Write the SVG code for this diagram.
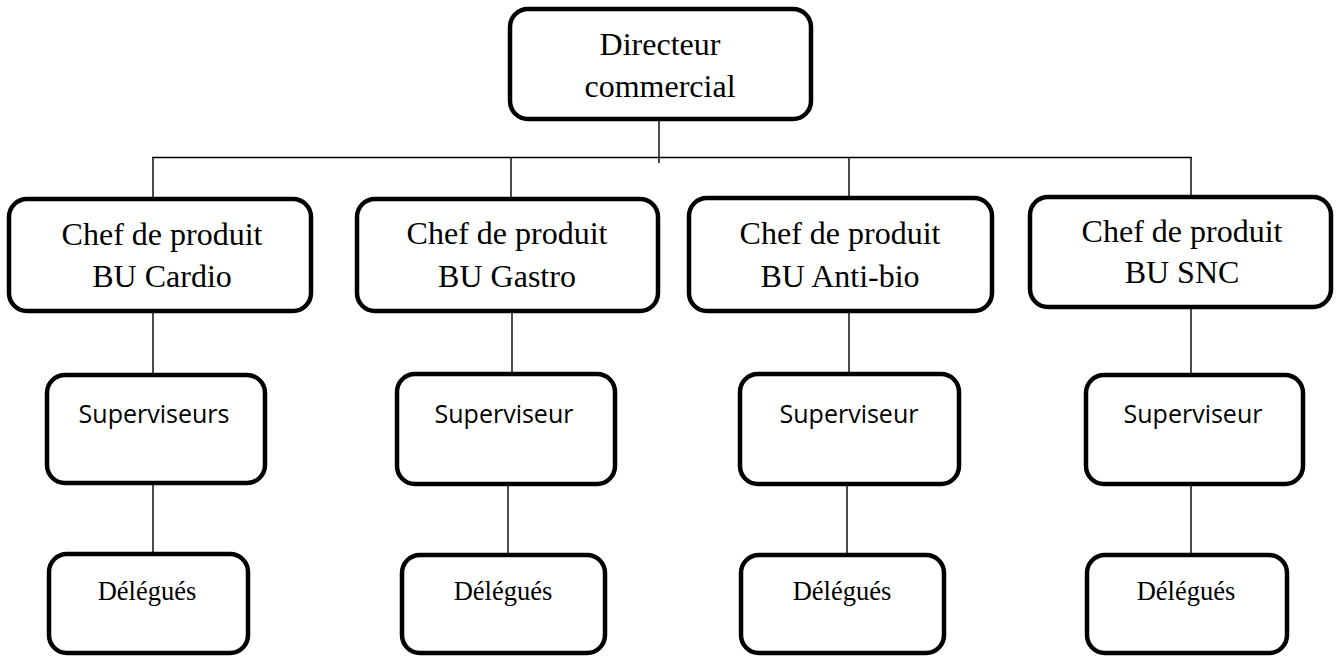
<svg xmlns="http://www.w3.org/2000/svg" width="1337" height="658" viewBox="0 0 1337 658">
  <style>
    .box { fill: #ffffff; stroke: #000000; stroke-width: 4.5; }
    .link { stroke: #000000; stroke-width: 1.4; fill: none; }
    .serif { font-family: "Liberation Serif", "Times New Roman", serif; fill: #000000; text-anchor: middle; }
    .big { font-size: 32px; }
    .small { font-size: 26.5px; }
    .sans { font-family: "Open Sans", "Liberation Sans", sans-serif; font-size: 25px; fill: #000000; text-anchor: middle; }
  </style>
  <rect width="1337" height="658" fill="#ffffff"/>

  <!-- connectors -->
  <g id="connectors">
    <line class="link" x1="659" y1="121" x2="659" y2="163"/>
    <line class="link" x1="152" y1="157.5" x2="1192" y2="157.5"/>
    <line class="link" x1="153" y1="157.5" x2="153" y2="197"/>
    <line class="link" x1="511" y1="157.5" x2="511" y2="197"/>
    <line class="link" x1="849" y1="157.5" x2="849" y2="196"/>
    <line class="link" x1="1191" y1="157.5" x2="1191" y2="195"/>
    <line class="link" x1="153" y1="313" x2="153" y2="373"/>
    <line class="link" x1="512" y1="313" x2="512" y2="372"/>
    <line class="link" x1="849" y1="313" x2="849" y2="372"/>
    <line class="link" x1="1191" y1="309" x2="1191" y2="373"/>
    <line class="link" x1="153" y1="485" x2="153" y2="552"/>
    <line class="link" x1="508" y1="486" x2="508" y2="553"/>
    <line class="link" x1="847" y1="486" x2="847" y2="553"/>
    <line class="link" x1="1191" y1="486" x2="1191" y2="553"/>
  </g>

  <!-- top level -->
  <g id="directeur">
    <rect class="box" x="510" y="9" width="301" height="110" rx="18"/>
    <text class="serif big" x="660" y="55">Directeur</text>
    <text class="serif big" x="660" y="97">commercial</text>
  </g>

  <!-- product managers -->
  <g id="chef-cardio">
    <rect class="box" x="9" y="199" width="302" height="112" rx="18"/>
    <text class="serif big" x="162" y="245">Chef de produit</text>
    <text class="serif big" x="162" y="287">BU Cardio</text>
  </g>
  <g id="chef-gastro">
    <rect class="box" x="357" y="199" width="301" height="112" rx="18"/>
    <text class="serif big" x="507" y="244">Chef de produit</text>
    <text class="serif big" x="507" y="287">BU Gastro</text>
  </g>
  <g id="chef-antibio">
    <rect class="box" x="689" y="198" width="303" height="113" rx="18"/>
    <text class="serif big" x="840" y="244">Chef de produit</text>
    <text class="serif big" x="840" y="287">BU Anti-bio</text>
  </g>
  <g id="chef-snc">
    <rect class="box" x="1030" y="197" width="301" height="110" rx="18"/>
    <text class="serif big" x="1182" y="242">Chef de produit</text>
    <text class="serif big" x="1182" y="283">BU SNC</text>
  </g>

  <!-- supervisors -->
  <g id="sup-cardio">
    <rect class="box" x="47" y="375" width="218" height="108" rx="18"/>
    <text class="sans" x="154" y="423">Superviseurs</text>
  </g>
  <g id="sup-gastro">
    <rect class="box" x="397" y="374" width="218" height="110" rx="18"/>
    <text class="sans" x="504" y="423">Superviseur</text>
  </g>
  <g id="sup-antibio">
    <rect class="box" x="740" y="374" width="219" height="110" rx="18"/>
    <text class="sans" x="849" y="423">Superviseur</text>
  </g>
  <g id="sup-snc">
    <rect class="box" x="1086" y="375" width="217" height="109" rx="18"/>
    <text class="sans" x="1193" y="423">Superviseur</text>
  </g>

  <!-- delegates -->
  <g id="del-cardio">
    <rect class="box" x="49" y="554" width="199" height="99" rx="18"/>
    <text class="serif small" x="147" y="600">Délégués</text>
  </g>
  <g id="del-gastro">
    <rect class="box" x="402" y="555" width="203" height="98" rx="18"/>
    <text class="serif small" x="503" y="600">Délégués</text>
  </g>
  <g id="del-antibio">
    <rect class="box" x="741" y="555" width="203" height="98" rx="18"/>
    <text class="serif small" x="842" y="600">Délégués</text>
  </g>
  <g id="del-snc">
    <rect class="box" x="1087" y="555" width="200" height="98" rx="18"/>
    <text class="serif small" x="1186" y="600">Délégués</text>
  </g>
</svg>
